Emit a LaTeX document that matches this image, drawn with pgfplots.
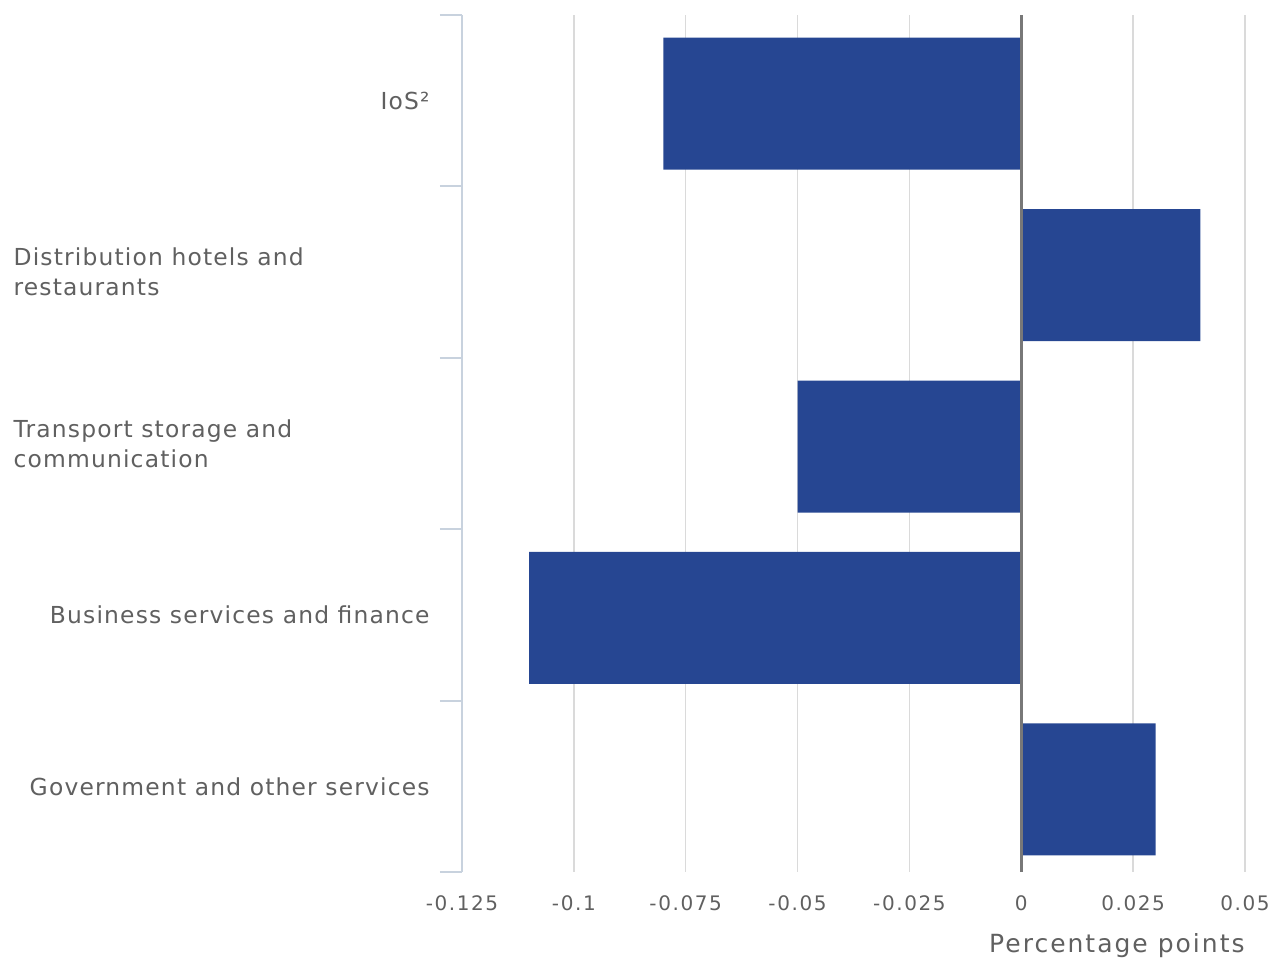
\documentclass[border=0pt]{standalone}
\usepackage{fontspec}
\setmainfont{DejaVu Sans}
\newfontfamily\labfont[LetterSpace=5]{DejaVu Sans}
\newfontfamily\xlabfont[LetterSpace=8]{DejaVu Sans}
\newfontfamily\tickfont[LetterSpace=8]{DejaVu Sans}
\usepackage{pgfplots}
\pgfplotsset{compat=1.18}
\definecolor{barblue}{RGB}{38,70,146}
\definecolor{txt}{RGB}{96,96,96}
\definecolor{gridc}{RGB}{218,218,218}
\definecolor{axc}{RGB}{200,210,222}
\definecolor{zeroc}{RGB}{120,120,120}
\begin{document}
\begin{tikzpicture}
\begin{axis}[
  name=ax,
  scale only axis, width=391.5pt, height=428.5pt,
  xbar, bar width=0.77,
  xmin=-0.125, xmax=0.05,
  ymin=-0.5, ymax=4.5, y dir=reverse,
  xtick={-0.125,-0.1,-0.075,-0.05,-0.025,0,0.025,0.05},
  xticklabels={-0.125,-0.1,-0.075,-0.05,-0.025,0,0.025,0.05},
  ytick={0,1,2,3,4},
  yticklabels={IoS², {\parbox{208pt}{\raggedright Distribution hotels and\\restaurants}}, {\parbox{208pt}{\raggedright Transport storage and\\communication}}, Business services and finance, Government and other services},
  minor ytick={-0.5,0.5,1.5,2.5,3.5,4.5},
  axis x line*=bottom, axis y line*=left,
  x axis line style={draw=none},
  y axis line style={draw=axc, line width=1pt, -},
  xmajorgrids, major grid style={gridc, line width=0.75pt},
  major tick length=0pt, minor tick length=11pt,
  tick align=outside,
  minor tick style={axc, line width=1pt},
  yticklabel style={font=\fontsize{11.7}{15}\labfont, text=txt, inner sep=0pt, xshift=-16pt},
  xticklabel style={font=\fontsize{10}{12}\tickfont, text=txt, inner sep=0pt, yshift=-11.5pt},
  clip=false,
]
\addplot[fill=barblue, draw=none, bar shift=-1.5pt] coordinates {(-0.08,0) (0.04,1) (-0.05,2) (-0.11,3) (0.03,4)};
\draw[zeroc, line width=1.5pt] (axis cs:0,-0.5) -- (axis cs:0,4.5);
\end{axis}
\node[anchor=north east, inner sep=0pt, font=\fontsize{12.5}{15}\xlabfont, text=txt] at ([yshift=-30.5pt]ax.south east) {Percentage points};
\path (ax.south west) ++(-231pt,-44pt) rectangle ++(643pt,480pt);
\end{tikzpicture}
\end{document}
